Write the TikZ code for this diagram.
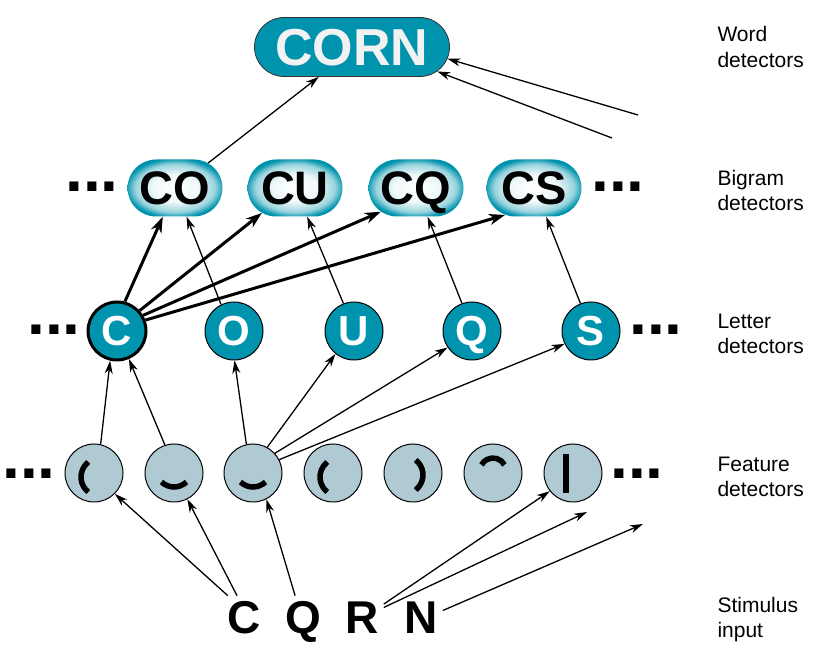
\documentclass[tikz,border=0pt]{standalone}
\usepackage{fontspec}
\setmainfont{Liberation Sans}
\usetikzlibrary{shapes.misc,arrows.meta}

\definecolor{detteal}{RGB}{0,147,173}
\definecolor{featblue}{RGB}{176,202,211}
\colorlet{bgpale}{detteal!6!white}
\colorlet{bgmid}{detteal!40!white}
\pgfdeclareradialshading{bigramshade}{\pgfpoint{0bp}{0bp}}{color(0bp)=(white); color(12bp)=(bgpale); color(21bp)=(bgmid); color(26bp)=(detteal); color(50bp)=(detteal)}

\tikzset{
  word/.style={rounded rectangle,draw=black!80,line width=0.8pt,fill=detteal,text=white!95!black,
    font=\fontsize{52}{52}\selectfont\bfseries,minimum width=195pt,minimum height=59pt,inner sep=0pt,
    text height=37pt,text depth=0pt},
  bigram/.style={rounded rectangle,shade,shading=bigramshade,font=\fontsize{47}{47}\selectfont\bfseries,
    minimum width=95pt,minimum height=57pt,inner sep=0pt,text height=33pt,text depth=0pt},
  letter/.style={circle,draw,line width=1pt,fill=detteal,text=white,
    font=\fontsize{42}{42}\selectfont\bfseries,minimum size=58pt,inner sep=0pt,text height=30pt,text depth=0pt},
  feature/.style={circle,draw,line width=1pt,fill=featblue,minimum size=58pt,inner sep=0pt},
  stim/.style={font=\fontsize{46}{46}\selectfont\bfseries,inner sep=5pt,anchor=base},
  ellip/.style={font=\fontsize{64}{64}\selectfont\bfseries,inner sep=0pt,anchor=base},
  layername/.style={align=left,anchor=west,font=\fontsize{21}{25}\selectfont},
  link/.style={-{Stealth[length=13pt,width=8pt,inset=4pt]},line width=1.3pt},
  strong/.style={-{Stealth[length=16pt,width=11pt,inset=5pt]},line width=3pt},
  glyph/.style={line width=5.5pt}
}

\begin{document}
\begin{tikzpicture}[x=1pt,y=1pt]
\useasboundingbox (0,0) rectangle (825,651);

% word level
\node[word] (corn) at (352,604) {CORN};
\coordinate (w1) at (638,536);
\coordinate (w2) at (612,513);

% bigram level
\node[bigram] (co) at (175,463) {CO};
\node[bigram] (cu) at (295,463) {CU};
\node[bigram] (cq) at (416,463) {CQ};
\node[bigram] (cs) at (534,463) {CS};
\node[ellip] (bl) at (92,459) {...};
\node[ellip] (br) at (618,459) {...};

% letter level
\node[letter,line width=3pt] (lc) at (117,320) {C};
\node[letter] (lo) at (234,320) {O};
\node[letter] (lu) at (354,320) {U};
\node[letter] (lq) at (472,320) {Q};
\node[letter] (ls) at (591,320) {S};
\node[ellip] (ll) at (54,316) {...};
\node[ellip] (lr) at (656,316) {...};

% feature level
\foreach \name/\x in {f1/94,f2/174,f3/253,f4/333,f5/413,f6/493,f7/573}
  \node[feature] (\name) at (\x,178) {};
\node[ellip] (fl) at (29,172) {...};
\node[ellip] (fr) at (637,172) {...};
\draw[glyph] ([shift={(6,-4)}]f1.center) ++(128:19) arc[start angle=128,end angle=232,radius=19];
\draw[glyph] ([shift={(0,4)}]f2.center) ++(226:18) arc[start angle=226,end angle=314,radius=18];
\draw[glyph] ([shift={(0,4)}]f3.center) ++(226:18) arc[start angle=226,end angle=314,radius=18];
\draw[glyph] ([shift={(6,-4)}]f4.center) ++(128:19) arc[start angle=128,end angle=232,radius=19];
\draw[glyph] ([shift={(-9,-2)}]f5.center) ++(-52:19) arc[start angle=-52,end angle=52,radius=19];
\draw[glyph] ([shift={(0,2)}]f6.center) ++(28:13) arc[start angle=28,end angle=152,radius=13];
\draw[line width=6pt] ([shift={(-7,-20)}]f7.center) -- ([shift={(-7,19)}]f7.center);

% stimulus
\node[stim] (sc) at (244,18) {C};
\node[stim] (sq) at (303,18) {Q};
\node[stim] (sr) at (362,18) {R};
\node[stim] (sn) at (421,18) {N};
\coordinate (r2) at (587,139);
\coordinate (n1) at (643,127);

% layer names
\node[layername] (nw) at (714,604) {Word\\detectors};
\node[layername] (nb) at (714,461) {Bigram\\detectors};
\node[layername] (nl) at (714,317) {Letter\\detectors};
\node[layername] (nf) at (714,174) {Feature\\detectors};
\node[layername] (ns) at (714,31) {Stimulus\\input};

% connections
\draw[link] (co.37) -- (corn.222);
\draw[link] (w1) -- (corn.353);
\draw[link] (w2) -- (corn.344);
\draw[strong] (lc.75) -- (co.247);
\draw[link] (lo.116) -- (co.292);
\draw[strong] (lc.42) -- (cu.217);
\draw[link] (lu.111) -- (cu.293);
\draw[strong] (lc.31) -- (cq.214);
\draw[link] (lq.110) -- (cq.292);
\draw[strong] (lc.21) -- (cs.223);
\draw[link] (ls.111) -- (cs.293);
\draw[link] (f1.77) -- (lc.257);
\draw[link] (f2.108) -- (lc.293);
\draw[link] (f3.103) -- (lo.271);
\draw[link] (f3.61) -- (lu.231);
\draw[link] (f3.42) -- (lq.214);
\draw[link] (f3.27) -- (ls.206);
\draw[link] (sc.127) -- (f1.315);
\draw[link] (sc.108) -- (f2.297);
\draw[link] (sq.107) -- (f3.297);
\draw[link] (sr.31) -- (f7.218);
\draw[link] (sr.24) -- (r2);
\draw[link] (sn.17) -- (n1);
\end{tikzpicture}
\end{document}
